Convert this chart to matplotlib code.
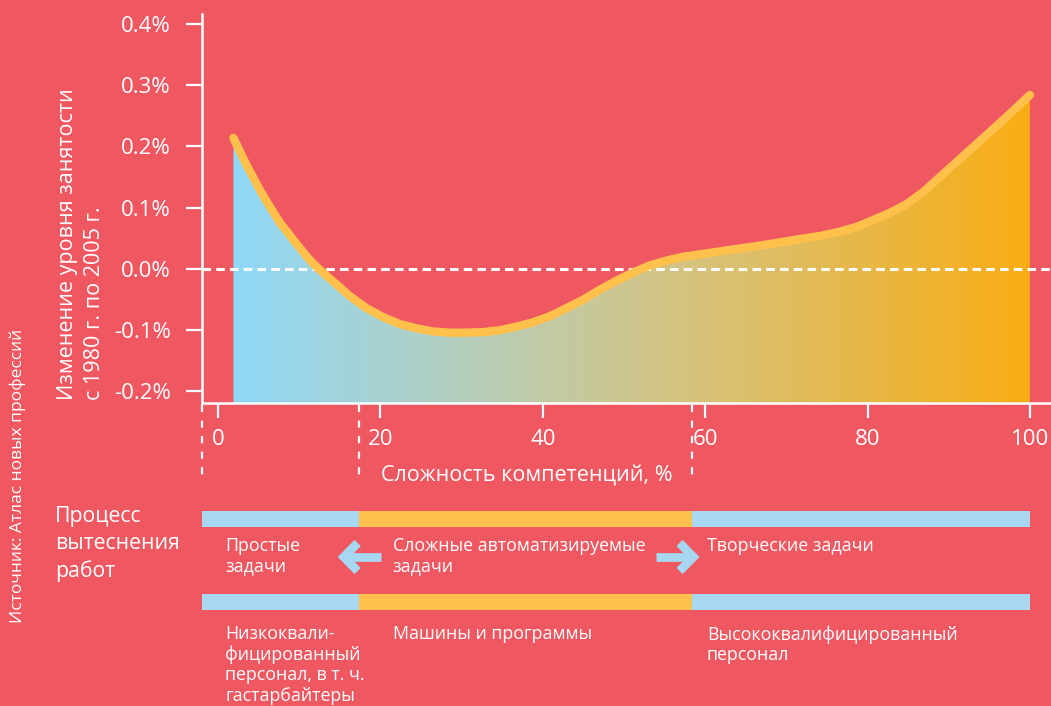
import numpy as np
import matplotlib.pyplot as plt
import matplotlib.transforms as mtransforms
from matplotlib.colors import LinearSegmentedColormap
from matplotlib.lines import Line2D
from matplotlib.patches import Rectangle

plt.rcParams['font.family'] = ['Open Sans', 'DejaVu Sans']

# competence complexity (%) and employment change 1980-2005 (%)
complexity = [1.9, 2.7, 3.5, 4.4, 5.2, 6.0, 6.8, 7.6, 8.5, 9.3, 10.1, 10.9,
              11.7, 12.6, 13.8, 16.3, 18.3, 20.4, 22.4, 24.5, 26.5, 28.6,
              30.6, 32.7, 34.7, 36.8, 38.8, 40.9, 42.9, 45.0, 47.0, 49.1,
              51.1, 53.2, 55.3, 57.3, 59.4, 63.5, 67.6, 71.7, 74.2, 76.6,
              78.7, 80.7, 82.8, 84.8, 86.9, 88.9, 91.0, 93.0, 95.1, 97.1,
              100.0]
change = [0.214, 0.192, 0.170, 0.148, 0.128, 0.110, 0.093, 0.076, 0.061,
          0.047, 0.034, 0.021, 0.009, -0.002, -0.016, -0.045, -0.064,
          -0.079, -0.090, -0.097, -0.102, -0.104, -0.104, -0.103, -0.100,
          -0.094, -0.087, -0.077, -0.064, -0.050, -0.034, -0.019, -0.006,
          0.006, 0.014, 0.020, 0.024, 0.032, 0.040, 0.049, 0.054, 0.061,
          0.069, 0.080, 0.092, 0.106, 0.126, 0.150, 0.175, 0.199, 0.224,
          0.248, 0.284]

yticks = [-0.2, -0.1, 0.0, 0.1, 0.2, 0.3, 0.4]
ytick_labels = ['-0.2%', '-0.1%', '0.0%', '0.1%', '0.2%', '0.3%', '0.4%']
xticks = [0, 20, 40, 60, 80, 100]

# displacement bands along the complexity axis
band_edges = [-2, 17.4, 58.4, 100]
process_label = "Процесс\nвытеснения\nработ"
task_labels = ["Простые\nзадачи", "Сложные автоматизируемые\nзадачи",
               "Творческие задачи"]
worker_labels = ["Низкоквали-\nфицированный\nперсонал, в т. ч.\nгастарбайтеры",
                 "Машины и программы",
                 "Высококвалифицированный\nперсонал"]
label_x = [0.9, 21.5, 60.2]

BG = '#EF5761'
CURVE = '#FFC04C'
BLUE = '#A8D7F2'
ORANGE = '#FFC14E'
W, H = 1051, 706


def fy(py):
    # pixel from top -> figure fraction
    return 1 - py / H


fig = plt.figure(figsize=(W / 100, H / 100), dpi=100, facecolor=BG)
ax = fig.add_axes([202 / W, fy(403), 1 - 202 / W, (403 - 14) / H])
ax.set_facecolor(BG)

xlim = (-1.97, 102.6)
ylim = (-0.2188, 0.4163)

# gradient area under the curve
cmap = LinearSegmentedColormap.from_list(
    'grad', ['#8FD8F8', '#CFC68F', '#F9AD14'])
poly = ax.fill_between(complexity, change, ylim[0], facecolor='none',
                       edgecolor='none')
grad = np.linspace(0, 1, 256).reshape(1, -1)
im = ax.imshow(grad, cmap=cmap, aspect='auto', origin='lower',
               extent=[complexity[0], complexity[-1], ylim[0], ylim[1]],
               zorder=1)
im.set_clip_path(poly.get_paths()[0], transform=ax.transData)

ax.axhline(0, color='white', lw=2.2, dashes=(2.8, 1.7), zorder=2)
ax.plot(complexity, change, color=CURVE, lw=6, solid_capstyle='round',
        solid_joinstyle='round', zorder=3)

ax.set_xlim(*xlim)
ax.set_ylim(*ylim)

for s in ['top', 'right']:
    ax.spines[s].set_visible(False)
for s in ['left', 'bottom']:
    ax.spines[s].set_color('white')
    ax.spines[s].set_linewidth(1.8)

ax.set_yticks(yticks)
ax.set_yticklabels(ytick_labels)
ax.set_xticks(xticks)
ax.tick_params(axis='y', colors='white', length=11.5, width=1.6, pad=11,
               labelsize=16)
ax.tick_params(axis='x', colors='white', length=11, width=1.6, pad=8,
               labelsize=16)

# axis titles
fig.text(81 / W, fy(400), "Изменение уровня занятости\nс 1980 г. по 2005 г.",
         rotation=90, va='bottom', ha='center', multialignment='left',
         color='white', fontsize=15.5, linespacing=1.4)
fig.text(527 / W, fy(475), "Сложность компетенций, %", ha='center',
         va='center', color='white', fontsize=15.5)
fig.text(17.5 / W, fy(623), "Источник: Атлас новых профессий", rotation=90,
         va='bottom', ha='center', color='white', fontsize=12.5)

blend = mtransforms.blended_transform_factory(ax.transData, fig.transFigure)

# dashed separators below the axis
for x in band_edges[:3]:
    ax.add_line(Line2D([x, x], [fy(405), fy(478)], transform=blend,
                       color='white', lw=1.6, dashes=(3.2, 3.8),
                       clip_on=False))

# band bars
colors = [BLUE, ORANGE, BLUE]
for top in [511, 594]:
    for x0, x1, c in zip(band_edges[:-1], band_edges[1:], colors):
        ax.add_patch(Rectangle((x0, fy(top + 16)), x1 - x0, 16 / H,
                               transform=blend, facecolor=c,
                               edgecolor='none', clip_on=False))

fig.text(55 / W, fy(506), process_label, va='top', ha='left', color='white',
         fontsize=15.3, linespacing=1.38)
for x, t in zip(label_x, task_labels):
    ax.text(x, fy(537), t, transform=blend, va='top', ha='left',
            color='white', fontsize=12.8, linespacing=1.17)
for x, t in zip(label_x, worker_labels):
    ax.text(x, fy(625), t, transform=blend, va='top', ha='left',
            color='white', fontsize=12.8, linespacing=1.17)


# chevron arrows between task groups
def draw_arrow(vertex, tail, direction):
    yc = fy(557)
    arm = 1.7 * direction
    ax.add_line(Line2D([tail, vertex + 0.3 * direction], [yc, yc],
                       transform=blend, color=BLUE, lw=6.3,
                       solid_capstyle='butt', clip_on=False))
    ax.add_line(Line2D([vertex + arm, vertex, vertex + arm],
                       [yc + 14 / H, yc, yc - 14 / H], transform=blend,
                       color=BLUE, lw=6.3, solid_joinstyle='miter',
                       solid_capstyle='butt', clip_on=False))


draw_arrow(15.5, 20.1, 1)
draw_arrow(58.55, 54.0, -1)

fig.savefig('out.png', dpi=100, facecolor=BG)
